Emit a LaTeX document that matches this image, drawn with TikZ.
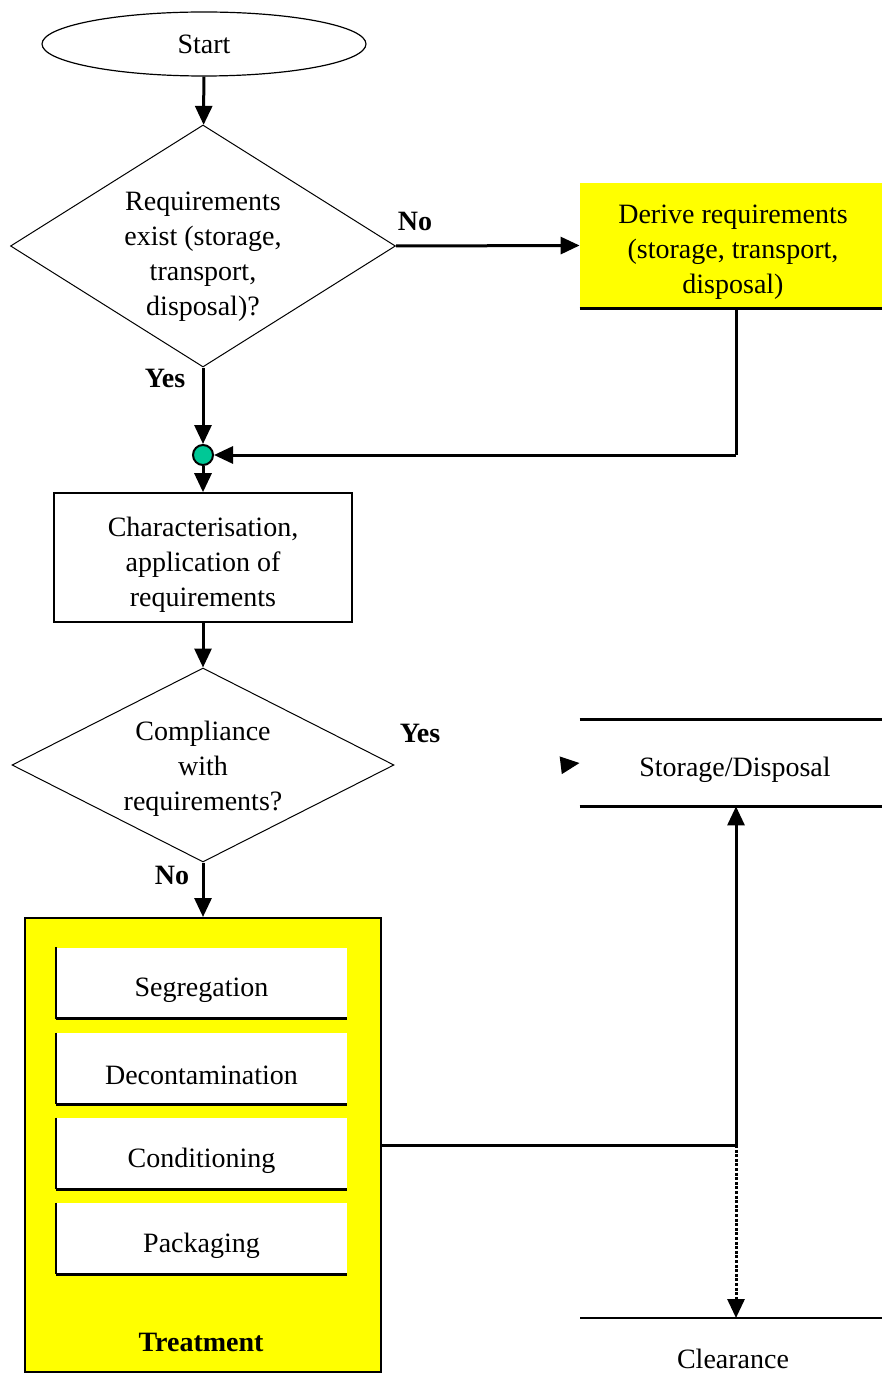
\documentclass[tikz,border=0pt]{standalone}
\usepackage{fontspec}
\setmainfont{Liberation Serif}
\usetikzlibrary{shapes.geometric,arrows.meta,calc}
\definecolor{boxyellow}{RGB}{255,255,0}
\definecolor{dotgreen}{RGB}{0,200,150}
\tikzset{
  tip/.tip={Triangle[length=9.5pt,width=8.5pt]},
  arr/.style={line width=1.5pt,-tip},
  conn/.style={line width=1.5pt},
  txt/.style={font=\fontsize{14}{17.5}\selectfont,align=center,inner sep=0pt},
  lbl/.style={font=\fontsize{14}{17}\selectfont\bfseries,inner sep=0pt},
  decision/.style={diamond,draw,line width=0.5pt,inner sep=0pt},
  innerbox/.style={fill=white,minimum width=145.5pt,minimum height=35.5pt,inner sep=0pt},
  innertxt/.style={font=\fontsize{14}{17}\selectfont,inner sep=0pt},
}
\begin{document}
\begin{tikzpicture}[x=0.5pt,y=-0.5pt]
\useasboundingbox (0,0) rectangle (882,1385);
% Start
\node[ellipse,draw,line width=0.6pt,minimum width=162pt,minimum height=32pt,inner sep=0pt,txt] (start) at (204,44) {Start};
% Decision 1
\node[decision,minimum width=192.5pt,minimum height=121pt] (d1) at (203,246) {};
\node[txt] at (203,257) {Requirements\\exist (storage,\\transport,\\disposal)?};
% Derive
\node[fill=boxyellow,minimum width=151pt,minimum height=62.5pt,inner sep=0pt] (der) at (731,245.5) {};
\draw[line width=1.5pt] (der.south west) -- (der.south east);
\node[txt] at (733,252) {Derive requirements\\(storage, transport,\\disposal)};
% junction dot
\node[circle,draw,line width=1pt,fill=dotgreen,minimum size=10pt,inner sep=0pt] (dot) at (203,455) {};
% Characterisation
\node[draw,line width=0.8pt,minimum width=149pt,minimum height=64.5pt,inner sep=0pt] (char) at (203,557.5) {};
\node[txt] at (203,565) {Characterisation,\\application of\\requirements};
% Decision 2
\node[decision,minimum width=191pt,minimum height=97pt] (d2) at (203,765) {};
\node[txt] at (203,769) {Compliance\\with\\requirements?};
% Storage/Disposal
\node[minimum width=151pt,minimum height=43pt,inner sep=0pt] (stor) at (731,763) {};
\draw[line width=1.5pt] (stor.north west) -- (stor.north east);
\draw[line width=1.5pt] (stor.south west) -- (stor.south east);
\node[txt] at (735,770) {Storage/Disposal};
% Treatment
\node[draw,line width=1pt,fill=boxyellow,minimum width=178pt,minimum height=227pt,inner sep=0pt] (treat) at (203,1145) {};
\node[innerbox] (seg) at (201.5,983) {};
\node[innerbox] (dec) at (201.5,1068.5) {};
\node[innerbox] (con) at (201.5,1153.5) {};
\node[innerbox] (pac) at (201.5,1238.5) {};
\foreach \b/\t in {seg/Segregation,dec/Decontamination,con/Conditioning,pac/Packaging}{
  \draw[line width=1pt] (\b.north west) -- (\b.south west);
  \draw[line width=1.5pt] (\b.south west) -- (\b.south east);
  \node[innertxt] at ($(\b.center)+(0,7)$) {\t};
}
\node[lbl] (tlbl) at (201,1342) {Treatment};
% Clearance
\coordinate (clrL) at (580,1318);
\coordinate (clrR) at (882,1318);
\draw[line width=1.2pt] (clrL) -- (clrR);
\node[txt] (clr) at (733,1359) {Clearance};
% junction and column
\coordinate (j) at (736,1145);
\coordinate (clrtop) at (736,1318);
\coordinate (derb) at (736,308);
\coordinate (yestip) at (563,765);
% Connectors
\draw[arr] (start) -- (d1);
\draw[arr] (d1.east) -- (der.west);
\draw[arr] (d1.south) -- (dot);
\draw[conn] (derb) -- (derb |- dot);
\draw[arr] (derb |- dot) -- (dot);
\draw[arr] (dot) -- (char);
\draw[arr] (char) -- (d2);
\draw[arr] (d2.south) -- (treat.north);
\draw[arr] (yestip) -- (stor.west);
\draw[conn] (treat.east) -- (j);
\draw[arr] (j) -- (j |- stor.south);
\draw[line width=1.5pt,dash pattern=on 1.5pt off 0.8pt,-tip] (j) -- (clrtop);
% labels
\node[lbl] at (415,221) {No};
\node[lbl] at (165,378) {Yes};
\node[lbl] at (420,733) {Yes};
\node[lbl] at (172,875) {No};
\end{tikzpicture}
\end{document}
